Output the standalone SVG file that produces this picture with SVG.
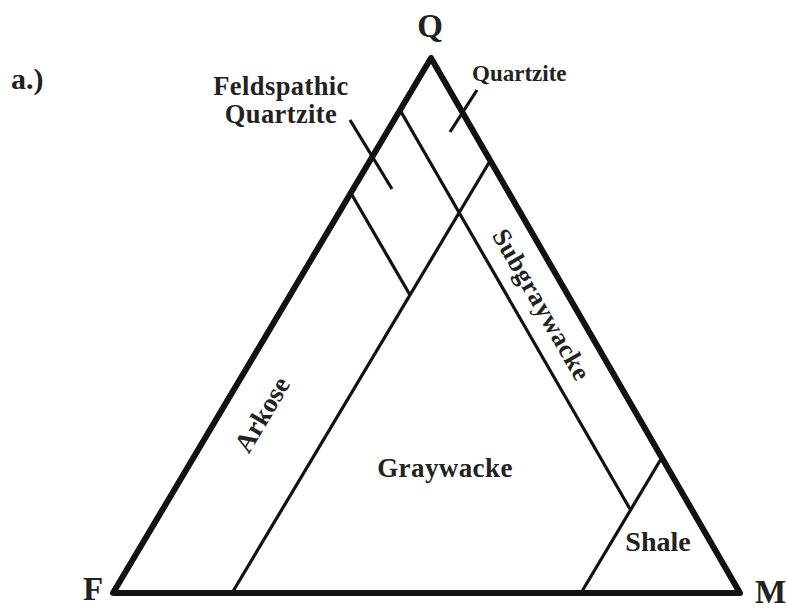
<svg xmlns="http://www.w3.org/2000/svg" width="788" height="611" viewBox="0 0 788 611">
<style>
.outer{fill:none;stroke:#111;stroke-width:6;stroke-linejoin:round;stroke-linecap:round}
.field{fill:none;stroke:#111;stroke-width:3.2;stroke-linecap:butt}
.lbl{font-family:"Liberation Serif","Times New Roman",serif;font-weight:bold;fill:#222}
</style>
<rect width="788" height="611" fill="#ffffff"/>
<g id="triangle">
<polygon class="outer" points="431,58 113,593 740,593"/>
</g>
<g id="connectors">
<line class="field" x1="400" y1="110" x2="630" y2="509"/>
<line class="field" x1="490" y1="161" x2="232" y2="593"/>
<line class="field" x1="352" y1="195" x2="410" y2="295"/>
<line class="field" x1="661" y1="459" x2="581" y2="593"/>
<line class="field" x1="350" y1="120" x2="392" y2="189"/>
<line class="field" x1="477" y1="90" x2="450" y2="132"/>
</g>
<g id="vertex-labels">
<text class="lbl" x="11" y="89" font-size="30">a.)</text>
<text class="lbl" x="430" y="37" font-size="33" text-anchor="middle">Q</text>
<text class="lbl" x="83" y="600" font-size="33">F</text>
<text class="lbl" x="755" y="603" font-size="33">M</text>
</g>
<g id="feldspathic-quartzite">
<text class="lbl" x="281" y="95" font-size="26.5" text-anchor="middle" letter-spacing="0.4">Feldspathic</text>
<text class="lbl" x="281" y="123" font-size="26.5" text-anchor="middle" letter-spacing="0.4">Quartzite</text>
</g>
<g id="quartzite">
<text class="lbl" x="472" y="81" font-size="23">Quartzite</text>
</g>
<g id="arkose">
<text class="lbl" font-size="27" text-anchor="middle" transform="translate(263,415) rotate(-59.3)" y="8">Arkose</text>
</g>
<g id="subgraywacke">
<text class="lbl" font-size="26" text-anchor="middle" transform="translate(541,305) rotate(60)" y="8" letter-spacing="0.6">Subgraywacke</text>
</g>
<g id="graywacke">
<text class="lbl" x="445" y="477" font-size="27" text-anchor="middle" letter-spacing="0.4">Graywacke</text>
</g>
<g id="shale">
<text class="lbl" x="658" y="551" font-size="28" text-anchor="middle">Shale</text>
</g>
</svg>
